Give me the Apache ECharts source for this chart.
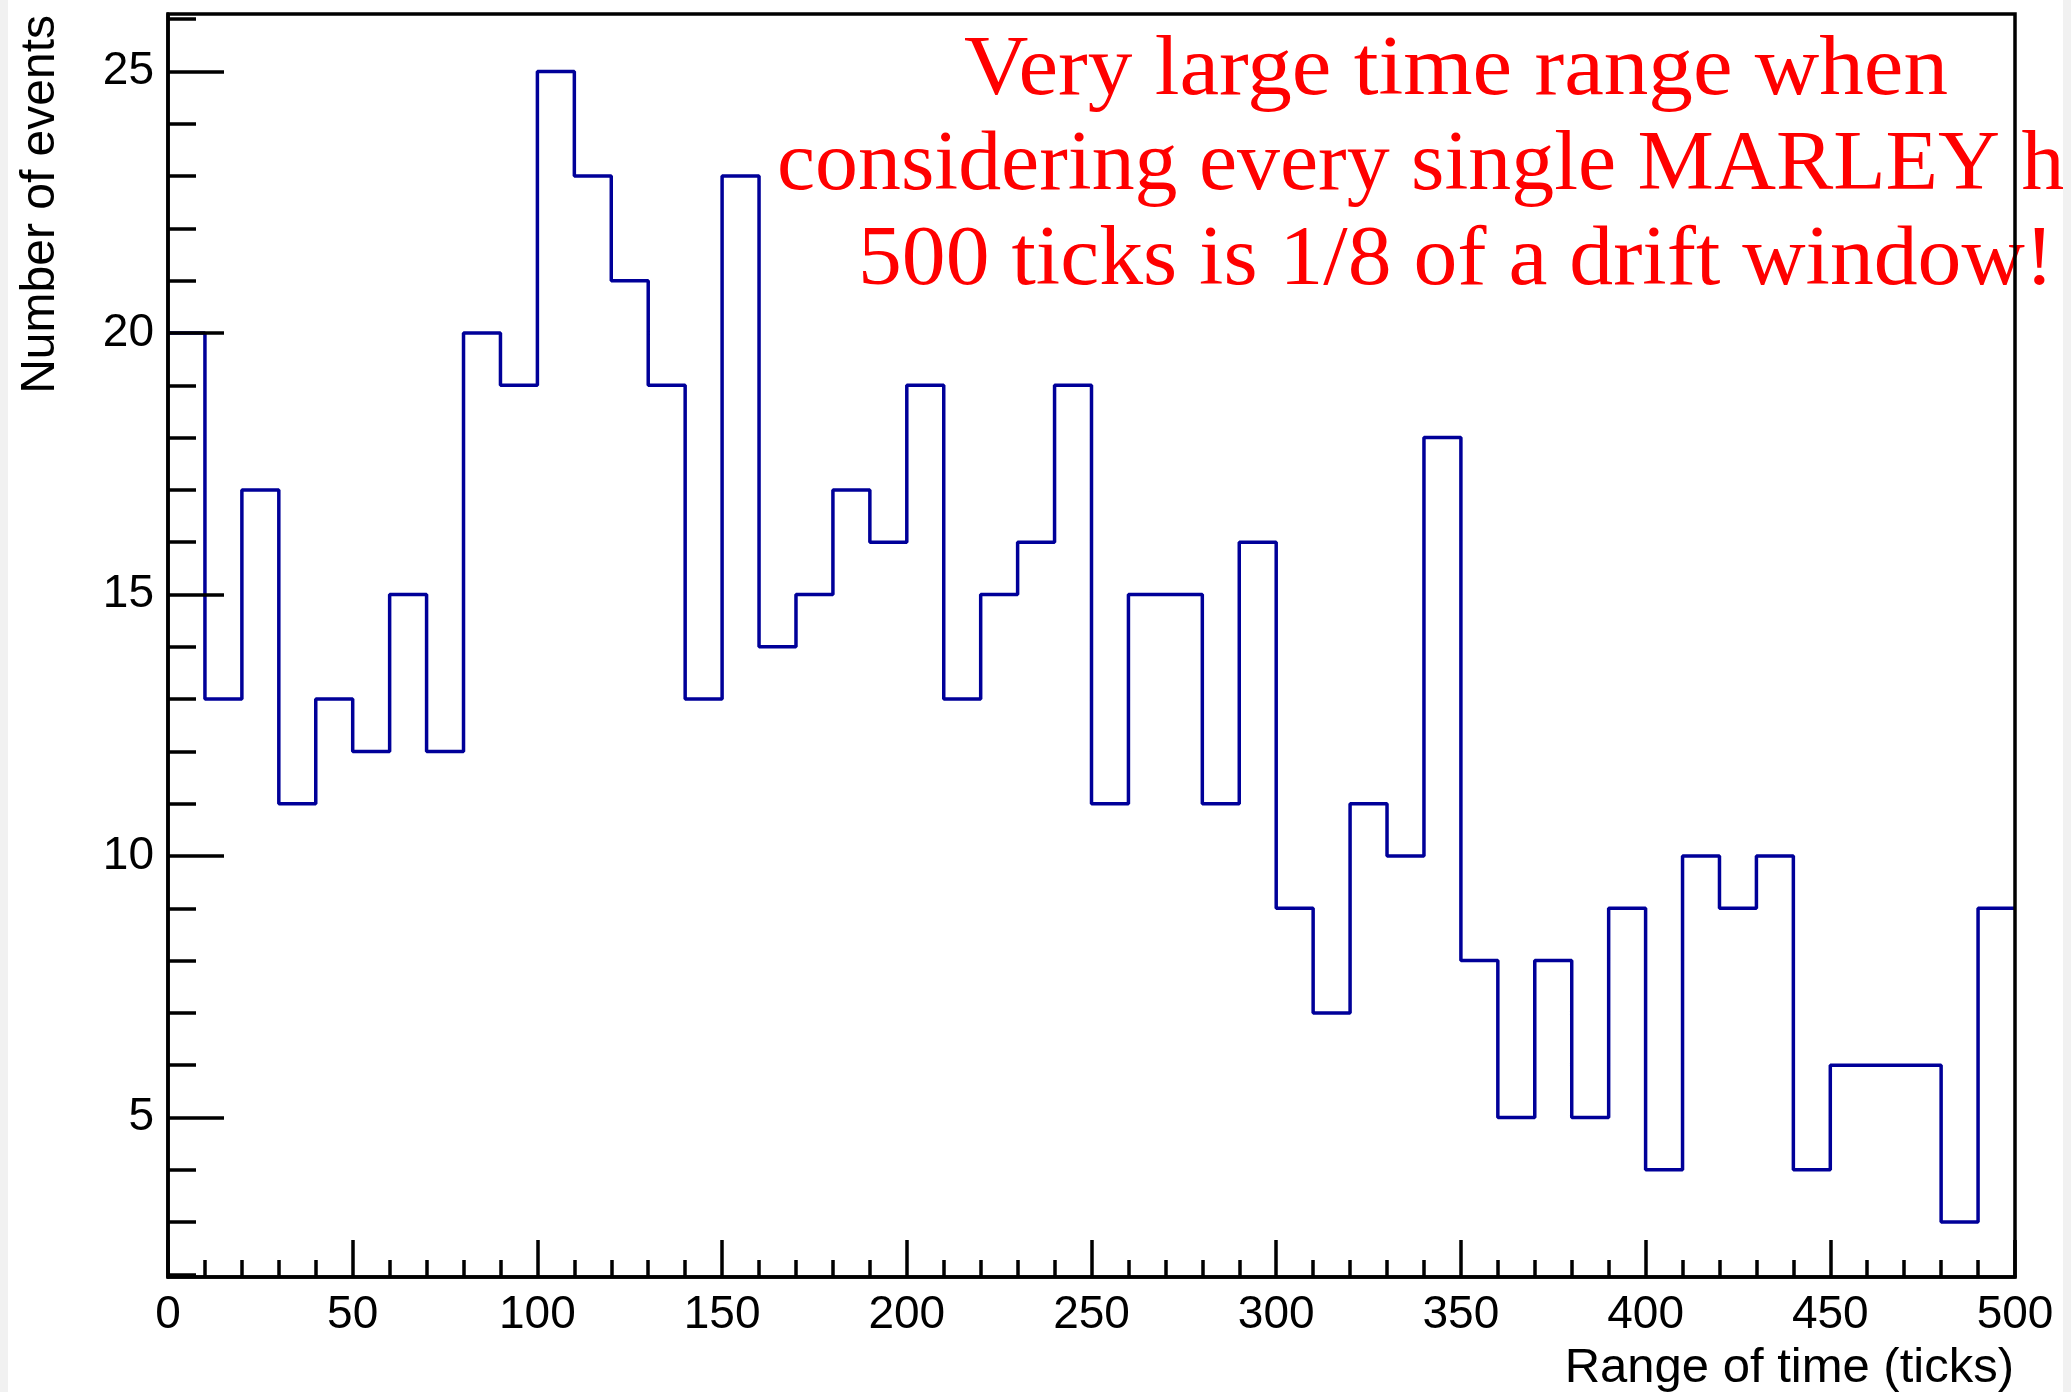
<!DOCTYPE html>
<html>
<head>
<meta charset="utf-8">
<script src="https://cdn.jsdelivr.net/npm/echarts@6/dist/echarts.min.js"></script>
<style>
html,body{margin:0;padding:0;background:#fff;}
#chart{width:2071px;height:1392px;}
</style>
</head>
<body>
<div id="chart"></div>
<script>
// ---- data ----
const binLow = [0,10,20,30,40,50,60,70,80,90,100,110,120,130,140,150,160,170,180,190,
  200,210,220,230,240,250,260,270,280,290,300,310,320,330,340,350,360,370,380,390,
  400,410,420,430,440,450,460,470,480,490];
const binHigh = 500;
const counts = [20,13,17,11,13,12,15,12,20,19,
  25,23,21,19,13,23,14,15,17,16,
  19,13,15,16,19,11,15,15,11,16,
  9,7,11,10,18,8,5,8,5,9,
  4,10,9,10,4,6,6,6,3,9];
const yMajorTicks = [5,10,15,20,25];
const yMinorTicks = [2,3,4,6,7,8,9,11,12,13,14,16,17,18,19,21,22,23,24,26];
const xTitle = 'Range of time (ticks)';
const yTitle = 'Number of events';
const noteLines = ['Very large time range when', 'considering every single MARLEY hit', '500 ticks is 1/8 of a drift window!'];

// ---- build ----
const stepData = binLow.map((x, i) => [x, counts[i]]);
stepData.push([binHigh, counts[counts.length - 1]]);

const chart = echarts.init(document.getElementById('chart'), null, {renderer: 'canvas'});

const noteFont = '"Liberation Serif", "Times New Roman", serif';
const noteSize = 82;
const ctx = document.createElement('canvas').getContext('2d');
ctx.font = noteSize + 'px ' + noteFont;
const w1 = ctx.measureText(noteLines[0]).width;
const w3 = ctx.measureText(noteLines[2]).width;
const w2part = ctx.measureText(noteLines[1].split(' ').slice(0, 4).join(' ')).width;
const s1 = 984 / w1, s3 = 1196 / w3, s2 = 1223 / w2part;
const sy = 1.04;

const sans = '"Liberation Sans", Arial, Helvetica, sans-serif';
const black = '#000';
const lw = 3.5;

const option = {
  backgroundColor: '#fff',
  animation: false,
  grid: {left: 168, right: 56, top: 14, bottom: 115, show: true, borderColor: black, borderWidth: lw, backgroundColor: 'transparent', z: 4},
  xAxis: {
    type: 'value', min: 0, max: 500, interval: 50, z: 4,
    axisLine: {show: true, lineStyle: {color: black, width: lw}},
    axisTick: {show: true, inside: true, length: 37, lineStyle: {color: black, width: lw}},
    minorTick: {show: true, splitNumber: 5, length: 17, lineStyle: {color: black, width: lw}},
    axisLabel: {color: black, fontFamily: sans, fontSize: 46, margin: 15, showMinLabel: true, showMaxLabel: true, hideOverlap: false},
    splitLine: {show: false}, minorSplitLine: {show: false}
  },
  yAxis: [{
    type: 'value', min: 1.95, max: 26.1, position: 'left', z: 4,
    axisLine: {show: true, onZero: false, lineStyle: {color: black, width: lw}},
    axisTick: {show: true, inside: true, length: 56, customValues: yMajorTicks, lineStyle: {color: black, width: lw}},
    axisLabel: {color: black, fontFamily: sans, fontSize: 46, margin: 14, customValues: yMajorTicks, showMinLabel: true},
    splitLine: {show: false}
  }, {
    type: 'value', min: 1.95, max: 26.1, position: 'left', offset: 0, z: 4,
    axisLine: {show: false},
    axisTick: {show: true, inside: true, length: 28, customValues: yMinorTicks, lineStyle: {color: black, width: lw}},
    axisLabel: {show: false},
    splitLine: {show: false}
  }],
  series: [{
    type: 'line', step: 'end', data: stepData, showSymbol: false, symbol: 'none',
    lineStyle: {color: '#000099', width: lw}, z: 2, clip: true
  }],
  graphic: [
    {type: 'text', x: 41, y: 15, rotation: Math.PI / 2, z: 10,
      style: {text: yTitle, fill: black, font: '48px ' + sans, textAlign: 'right', textVerticalAlign: 'middle'}},
    {type: 'text', x: 2014, y: 1368, z: 10,
      style: {text: xTitle, fill: black, font: '49px ' + sans, textAlign: 'right', textVerticalAlign: 'middle'}},
    {type: 'text', x: 1456, y: 72, scaleX: s1, scaleY: sy, z: 1,
      style: {text: noteLines[0], fill: '#ff0000', font: noteSize + 'px ' + noteFont, textAlign: 'center', textVerticalAlign: 'middle'}},
    {type: 'text', x: 777, y: 167, scaleX: s2, scaleY: sy, z: 1,
      style: {text: noteLines[1], fill: '#ff0000', font: noteSize + 'px ' + noteFont, textAlign: 'left', textVerticalAlign: 'middle'}},
    {type: 'text', x: 1456, y: 262, scaleX: s3, scaleY: sy, z: 1,
      style: {text: noteLines[2], fill: '#ff0000', font: noteSize + 'px ' + noteFont, textAlign: 'center', textVerticalAlign: 'middle'}},
    {type: 'rect', shape: {x: 0, y: 0, width: 8, height: 1392}, style: {fill: '#f1f1f1'}, z: 20},
    {type: 'rect', shape: {x: 2063, y: 0, width: 8, height: 1392}, style: {fill: '#f1f1f1'}, z: 20}
  ]
};
chart.setOption(option);
</script>
</body>
</html>
